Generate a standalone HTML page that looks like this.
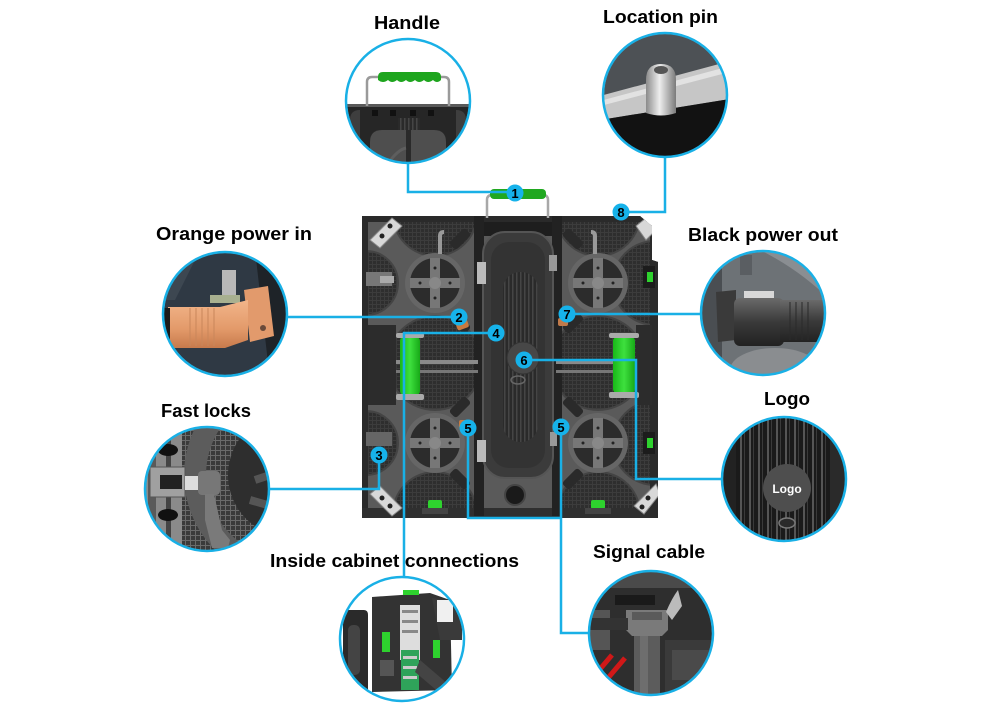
<!DOCTYPE html>
<html><head><meta charset="utf-8"><style>
html,body{margin:0;padding:0;background:#fff;}
svg{display:block;}
text{font-family:"Liberation Sans",Arial,sans-serif;font-weight:bold;}
</style></head><body>
<svg width="1000" height="710" viewBox="0 0 1000 710" xmlns="http://www.w3.org/2000/svg">
<defs>
<clipPath id="cab"><path d="M362 216 H640 L652 226 V260 L658 262 V518 H362 Z"/></clipPath>
<clipPath id="c1"><circle cx="408" cy="101" r="61"/></clipPath>
<clipPath id="c2"><circle cx="665" cy="95" r="61"/></clipPath>
<clipPath id="c3"><circle cx="225" cy="314" r="61"/></clipPath>
<clipPath id="c4"><circle cx="763" cy="313" r="61"/></clipPath>
<clipPath id="c5"><circle cx="207" cy="489" r="61"/></clipPath>
<clipPath id="c6"><circle cx="784" cy="479" r="61"/></clipPath>
<clipPath id="c7"><circle cx="402" cy="639" r="61"/></clipPath>
<clipPath id="c8"><circle cx="651" cy="633" r="61"/></clipPath>
<pattern id="mesh" width="4" height="4" patternUnits="userSpaceOnUse">
<rect width="4" height="4" fill="#2e2e2e"/><rect width="1" height="4" fill="#3c3c3c"/><rect width="4" height="1" fill="#3c3c3c"/>
</pattern>
<pattern id="mesh2" width="5" height="5" patternUnits="userSpaceOnUse">
<rect width="5" height="5" fill="#3a3a3a"/><rect width="1" height="5" fill="#6a6a6a"/><rect width="5" height="1" fill="#6a6a6a"/>
</pattern>
<pattern id="grille" width="4" height="4" patternUnits="userSpaceOnUse">
<rect width="4" height="4" fill="#2a2a2a"/><rect width="1.5" height="4" fill="#454545"/>
</pattern>
<pattern id="stripes" width="9" height="9" patternUnits="userSpaceOnUse">
<rect width="9" height="9" fill="#1a1a1a"/><rect x="2" width="2" height="9" fill="#555"/><rect x="6" width="1" height="9" fill="#3a3a3a"/>
</pattern>
<linearGradient id="pinG" x1="0" x2="1"><stop offset="0" stop-color="#8a8a8a"/><stop offset="0.45" stop-color="#eeeeee"/><stop offset="1" stop-color="#7a7a7a"/></linearGradient>
<linearGradient id="cylG" x1="0" y1="0" x2="0" y2="1"><stop offset="0" stop-color="#6a6a6a"/><stop offset="0.5" stop-color="#3a3a3a"/><stop offset="1" stop-color="#222"/></linearGradient>
<linearGradient id="orG" x1="0" y1="0" x2="0" y2="1"><stop offset="0" stop-color="#f2b58a"/><stop offset="0.6" stop-color="#e39a6a"/><stop offset="1" stop-color="#c77a4c"/></linearGradient>
<linearGradient id="grnG" x1="0" x2="1"><stop offset="0" stop-color="#18b818"/><stop offset="0.5" stop-color="#3ee03e"/><stop offset="1" stop-color="#17a917"/></linearGradient>
<g id="hub">
<circle r="30" fill="#666"/>
<circle r="25" fill="#2c2c2c"/>
<path d="M-5 -25 H5 V-5 H25 V5 H5 V25 H-5 V5 H-25 V-5 H-5 Z" fill="#777"/>
<circle r="6" fill="#888"/>
<circle cx="0" cy="-15" r="1.5" fill="#222"/><circle cx="0" cy="15" r="1.5" fill="#222"/><circle cx="-15" cy="0" r="1.5" fill="#222"/><circle cx="15" cy="0" r="1.5" fill="#222"/>
</g>
</defs>

<!-- ================= CABINET ================= -->
<g clip-path="url(#cab)">
<rect x="362" y="216" width="296" height="302" fill="#5a5a5a"/>
<!-- mesh circles -->
<g fill="url(#mesh)" stroke="#444" stroke-width="2">
<circle cx="435" cy="214" r="42"/>
<circle cx="435" cy="363" r="47"/>
<circle cx="435" cy="514" r="42"/>
<circle cx="366" cy="283" r="32"/>
<circle cx="366" cy="443" r="32"/>
<circle cx="598" cy="214" r="42"/>
<circle cx="598" cy="363" r="47"/>
<circle cx="598" cy="514" r="42"/>
<circle cx="655" cy="283" r="42"/>
<circle cx="655" cy="443" r="42"/>
</g>
<!-- frame edges -->
<rect x="362" y="216" width="6" height="302" fill="#2a2a2a"/>
<rect x="362" y="216" width="296" height="6" fill="#2a2a2a"/>
<rect x="362" y="508" width="296" height="10" fill="#2f2f2f"/>
<rect x="650" y="216" width="8" height="302" fill="#2a2a2a"/>
<rect x="474" y="216" width="10" height="300" fill="#222"/>
<rect x="552" y="216" width="10" height="300" fill="#222"/>
<!-- arm dark slots -->
<g fill="#2a2a2a">
<rect x="455" y="228" width="10" height="22" rx="3" transform="rotate(45 460 239)"/>
<rect x="455" y="312" width="10" height="22" rx="3" transform="rotate(-45 460 323)"/>
<rect x="455" y="396" width="10" height="22" rx="3" transform="rotate(45 460 407)"/>
<rect x="455" y="468" width="10" height="22" rx="3" transform="rotate(-45 460 479)"/>
<rect x="568" y="228" width="10" height="22" rx="3" transform="rotate(-45 573 239)"/>
<rect x="568" y="312" width="10" height="22" rx="3" transform="rotate(45 573 323)"/>
<rect x="568" y="396" width="10" height="22" rx="3" transform="rotate(-45 573 407)"/>
<rect x="568" y="468" width="10" height="22" rx="3" transform="rotate(45 573 479)"/>
</g>
<!-- hubs -->
<use href="#hub" x="435" y="283"/>
<use href="#hub" x="435" y="443"/>
<use href="#hub" x="598" y="283"/>
<use href="#hub" x="598" y="443"/>
<!-- middle band bars -->
<rect x="378" y="360" width="100" height="4" fill="#8a8a8a"/>
<rect x="378" y="370" width="100" height="3" fill="#777"/>
<rect x="556" y="360" width="90" height="4" fill="#8a8a8a"/>
<rect x="556" y="370" width="90" height="3" fill="#777"/>
<!-- dark side blocks -->
<rect x="368" y="325" width="28" height="80" fill="#2c2c2c"/>
<rect x="636" y="325" width="16" height="80" fill="#2c2c2c"/>
<!-- top handle pipes inside -->
<path d="M440 254 V236 Q440 232 444 232" fill="none" stroke="#999" stroke-width="4"/>
<path d="M595 254 V236 Q595 232 591 232" fill="none" stroke="#999" stroke-width="4"/>
<!-- fast lock left -->
<rect x="366" y="272" width="26" height="14" fill="#777"/>
<rect x="380" y="276" width="14" height="7" fill="#aaa"/>
<rect x="366" y="432" width="26" height="14" fill="#666"/>
<!-- right locks -->
<rect x="643" y="266" width="12" height="22" fill="#1c1c1c"/>
<rect x="647" y="272" width="6" height="10" fill="#2ed22e"/>
<rect x="643" y="432" width="12" height="22" fill="#1c1c1c"/>
<rect x="647" y="438" width="6" height="10" fill="#2ed22e"/>
<!-- corner brackets -->
<g fill="#d8d8d8" stroke="#888" stroke-width="1">
<polygon points="370,240 392,218 402,226 380,248"/>
<polygon points="370,494 380,486 402,508 392,516"/>
<polygon points="636,226 646,218 656,230 646,240"/>
<polygon points="634,506 656,484 660,494 644,514"/>
</g>
<g fill="#222"><circle cx="390" cy="226" r="2.5"/><circle cx="382" cy="236" r="2.5"/><circle cx="382" cy="498" r="2.5"/><circle cx="390" cy="506" r="2.5"/><circle cx="648" cy="498" r="2.5"/><circle cx="642" cy="507" r="2.5"/></g>
<!-- bottom green connectors -->
<rect x="428" y="500" width="14" height="9" rx="2" fill="#2ed22e"/>
<rect x="422" y="508" width="26" height="6" fill="#444"/>
<rect x="591" y="500" width="14" height="9" rx="2" fill="#2ed22e"/>
<rect x="585" y="508" width="26" height="6" fill="#444"/>
<circle cx="515" cy="495" r="10" fill="#1a1a1a" stroke="#444" stroke-width="2"/>
<!-- orange connectors -->
<rect x="456" y="320" width="12" height="9" rx="2" fill="#c87a40" transform="rotate(-20 462 324)"/>
<rect x="459" y="420" width="10" height="8" rx="2" fill="#c87a40"/>
<rect x="558" y="318" width="10" height="8" rx="2" fill="#c07a4a"/>
<!-- central module -->
<rect x="484" y="222" width="68" height="14" fill="#1e1e1e"/>
<rect x="483" y="232" width="70" height="246" rx="22" fill="#3b3b3b" stroke="#555" stroke-width="2"/>
<rect x="491" y="242" width="54" height="226" rx="18" fill="#333"/>
<rect x="503" y="272" width="35" height="170" rx="17" fill="url(#grille)"/>
<circle cx="523" cy="358" r="16" fill="#474747" stroke="#333"/>
<ellipse cx="518" cy="380" rx="7" ry="4" fill="none" stroke="#666" stroke-width="1.5"/>
<rect x="477" y="262" width="9" height="22" fill="#bbb"/>
<rect x="549" y="255" width="8" height="16" fill="#999"/>
<rect x="477" y="440" width="9" height="22" fill="#bbb"/>
<rect x="550" y="432" width="7" height="14" fill="#999"/>
<!-- side green handles -->
<rect x="400" y="337" width="20" height="58" rx="4" fill="url(#grnG)"/>
<rect x="396" y="333" width="28" height="5" rx="2" fill="#aaa"/>
<rect x="396" y="394" width="28" height="6" rx="2" fill="#aaa"/>
<rect x="613" y="337" width="22" height="56" rx="4" fill="url(#grnG)"/>
<rect x="609" y="333" width="30" height="5" rx="2" fill="#aaa"/>
<rect x="609" y="392" width="30" height="6" rx="2" fill="#aaa"/>
</g>
<!-- top handle -->
<path d="M487 218 V200 Q487 195 492 195 H543 Q548 195 548 200 V218" fill="none" stroke="#a8a8a8" stroke-width="2.5"/>
<rect x="490" y="189" width="56" height="10" rx="4" fill="#20a820"/>

<!-- ================= DETAIL CIRCLES ================= -->
<!-- Handle -->
<g clip-path="url(#c1)">
<rect x="340" y="35" width="140" height="140" fill="#fff"/>
<rect x="340" y="104" width="140" height="72" fill="#262626"/>
<rect x="345" y="104" width="126" height="3" fill="#5a5a5a"/>
<g fill="#111"><rect x="372" y="110" width="6" height="6"/><rect x="390" y="110" width="6" height="6"/><rect x="410" y="110" width="6" height="6"/><rect x="428" y="110" width="6" height="6"/></g>
<rect x="398" y="118" width="22" height="12" fill="url(#grille)"/>
<path d="M350 120 Q350 110 360 110 V176 H350 Z" fill="#3e3e3e"/>
<path d="M466 120 Q466 110 456 110 V176 H466 Z" fill="#3e3e3e"/>
<path d="M370 176 V142 Q370 130 382 130 H434 Q446 130 446 142 V176 Z" fill="#4e4e4e"/>
<rect x="406" y="130" width="5" height="46" fill="#2a2a2a"/>
<path d="M380 176 Q395 150 406 148" fill="none" stroke="#5e5e5e" stroke-width="3"/>
<path d="M367 106 V82 Q367 77 372 77 H444 Q449 77 449 82 V106" fill="none" stroke="#9a9a9a" stroke-width="2.5"/>
<path d="M378 77 Q378 72 383 72 H436 Q441 72 441 77 V80 Q437 84 433 80 Q428 84 424 80 Q419 84 415 80 Q410 84 406 80 Q401 84 397 80 Q392 84 388 80 Q383 84 378 80 Z" fill="#1ea51e"/>
</g>
<!-- Location pin -->
<g clip-path="url(#c2)">
<rect x="600" y="30" width="130" height="130" fill="#4d5155"/>
<polygon points="690,30 730,30 730,62" fill="#6a6e72"/>
<polygon points="600,96 730,61 730,99 600,120" fill="#c6c6c6"/>
<polygon points="600,101 730,66 730,72 600,106" fill="#e2e2e2"/>
<polygon points="600,120 730,99 730,160 600,160" fill="#121212"/>
<path d="M646 113 V80 Q646 64 661 64 Q676 64 676 80 V113 Q661 118 646 113 Z" fill="url(#pinG)"/>
<ellipse cx="661" cy="70" rx="7" ry="4" fill="#555"/>
</g>
<!-- Orange power in -->
<g clip-path="url(#c3)">
<rect x="160" y="250" width="130" height="130" fill="#2f3944"/>
<polygon points="255,250 290,250 290,380 270,380" fill="#1e2328"/>
<polygon points="160,250 200,250 175,300 160,300" fill="#3d4751"/>
<rect x="222" y="270" width="14" height="30" fill="#b8b8b8"/>
<rect x="210" y="295" width="30" height="8" fill="#a8b090"/>
<polygon points="244,290 268,286 274,336 250,342" fill="#e29a6c"/>
<path d="M168 307 H220 L248 300 V340 L225 348 H168 Z" fill="url(#orG)"/>
<g stroke="#c9865a" stroke-width="1"><line x1="190" y1="308" x2="190" y2="346"/><line x1="196" y1="308" x2="196" y2="346"/><line x1="202" y1="308" x2="202" y2="346"/><line x1="208" y1="308" x2="208" y2="346"/><line x1="214" y1="308" x2="214" y2="346"/></g>
<circle cx="263" cy="328" r="3" fill="#6a4a3a"/>
<rect x="160" y="308" width="10" height="38" fill="#1a1a1a"/>
</g>
<!-- Black power out -->
<g clip-path="url(#c4)">
<rect x="700" y="250" width="130" height="130" fill="#6d7276"/>
<path d="M760 250 Q800 270 830 300 V250 Z" fill="#8a8e92"/>
<ellipse cx="775" cy="370" rx="45" ry="22" fill="#8a8d90"/>
<rect x="700" y="250" width="22" height="130" fill="#4a4e52"/>
<rect x="740" y="255" width="12" height="20" fill="#5a5e62"/>
<rect x="744" y="291" width="30" height="9" fill="#d8d8d8"/>
<polygon points="716,292 736,290 736,340 718,342" fill="#3a3a3a"/>
<rect x="734" y="298" width="50" height="48" rx="6" fill="url(#cylG)"/>
<rect x="780" y="300" width="50" height="42" fill="url(#cylG)"/>
<g stroke="#2a2a2a" stroke-width="1"><line x1="790" y1="302" x2="790" y2="340"/><line x1="796" y1="302" x2="796" y2="340"/><line x1="802" y1="302" x2="802" y2="340"/><line x1="808" y1="302" x2="808" y2="340"/></g>
</g>
<!-- Fast locks -->
<g clip-path="url(#c5)">
<rect x="140" y="420" width="140" height="140" fill="url(#mesh2)"/>
<circle cx="290" cy="475" r="95" fill="none" stroke="#5c5c5c" stroke-width="22"/>
<circle cx="290" cy="475" r="62" fill="#2e2e2e"/>
<path d="M255 480 L285 470 M250 500 L285 510" stroke="#555" stroke-width="8"/>
<rect x="140" y="420" width="42" height="140" fill="#8a8a8a"/>
<rect x="148" y="420" width="8" height="140" fill="#5a5a5a"/>
<rect x="166" y="420" width="5" height="140" fill="#444"/>
<ellipse cx="168" cy="450" rx="10" ry="6" fill="#111"/>
<ellipse cx="168" cy="515" rx="10" ry="6" fill="#111"/>
<rect x="150" y="467" width="35" height="30" fill="#a0a0a0" stroke="#555"/>
<rect x="160" y="475" width="22" height="14" fill="#222"/>
<rect x="185" y="476" width="14" height="14" fill="#ddd"/>
<rect x="198" y="471" width="22" height="24" rx="4" fill="#777"/>
<path d="M205 494 L214 494 L222 530 L230 540 L228 548 L212 548 L205 520 Z" fill="#7a7a7a"/>
</g>
<!-- Logo -->
<g clip-path="url(#c6)">
<rect x="720" y="415" width="130" height="130" fill="url(#stripes)"/>
<rect x="722" y="415" width="14" height="130" fill="#222"/>
<rect x="830" y="415" width="20" height="130" fill="#2a2a2a"/>
<circle cx="787" cy="488" r="24" fill="#4e4e4e"/>
<text x="787" y="493" font-size="12" fill="#fff" text-anchor="middle">Logo</text>
<ellipse cx="787" cy="523" rx="8" ry="5" fill="#2a2a2a" stroke="#777" stroke-width="1.5"/>
</g>
<!-- Inside cabinet connections -->
<g clip-path="url(#c7)">
<rect x="338" y="575" width="130" height="130" fill="#fff"/>
<path d="M343 615 Q343 610 348 610 H364 Q368 610 368 615 V690 H343 Z" fill="#2a2a2a"/>
<rect x="348" y="625" width="12" height="50" rx="5" fill="#444"/>
<polygon points="372,597 430,593 450,600 452,690 372,692" fill="#333"/>
<polygon points="432,598 462,602 462,640 440,640" fill="#3a3a3a"/>
<rect x="400" y="605" width="20" height="55" fill="#ddd"/>
<rect x="402" y="610" width="16" height="3" fill="#888"/><rect x="402" y="620" width="16" height="3" fill="#888"/><rect x="402" y="630" width="16" height="3" fill="#888"/>
<rect x="401" y="650" width="18" height="40" fill="#2fa35a"/>
<rect x="403" y="656" width="14" height="3" fill="#ccc"/><rect x="403" y="666" width="14" height="3" fill="#ccc"/><rect x="403" y="676" width="14" height="3" fill="#ccc"/>
<rect x="382" y="632" width="8" height="20" fill="#2ed22e"/>
<rect x="433" y="640" width="7" height="18" fill="#2ed22e"/>
<rect x="403" y="590" width="16" height="5" fill="#2ed22e"/>
<rect x="437" y="600" width="16" height="22" fill="#f0f0f0"/>
<polygon points="420,660 455,690 448,700 415,672" fill="#444"/>
<rect x="380" y="660" width="14" height="16" fill="#555"/>
</g>
<!-- Signal cable -->
<g clip-path="url(#c8)">
<rect x="585" y="570" width="135" height="130" fill="#2e2e2e"/>
<rect x="585" y="570" width="135" height="18" fill="#4a4a4a"/>
<rect x="615" y="595" width="40" height="10" fill="#1a1a1a"/>
<path d="M626 610 H668 V630 L662 636 H632 L626 630 Z" fill="#7a7a7a"/>
<rect x="632" y="612" width="30" height="8" fill="#5a5a5a"/>
<path d="M666 612 Q672 598 678 590 L682 606 L672 620 Z" fill="#bbb"/>
<rect x="634" y="636" width="26" height="64" fill="#5c5c5c"/>
<rect x="640" y="636" width="8" height="64" fill="#6e6e6e"/>
<rect x="588" y="610" width="22" height="40" fill="#555"/>
<rect x="588" y="618" width="40" height="12" fill="#333"/>
<path d="M595 675 L612 655 M608 678 L625 658" stroke="#d01818" stroke-width="5"/>
<rect x="665" y="640" width="55" height="60" fill="#3a3a3a"/>
<rect x="672" y="650" width="40" height="30" fill="#4a4a4a"/>
</g>

<!-- circle borders -->
<g fill="none" stroke="#19b0e6" stroke-width="2.5">
<circle cx="408" cy="101" r="62"/>
<circle cx="665" cy="95" r="62"/>
<circle cx="225" cy="314" r="62"/>
<circle cx="763" cy="313" r="62"/>
<circle cx="207" cy="489" r="62"/>
<circle cx="784" cy="479" r="62"/>
<circle cx="402" cy="639" r="62"/>
<circle cx="651" cy="633" r="62"/>
</g>

<!-- connector lines -->
<g fill="none" stroke="#19b0e6" stroke-width="2.5">
<path d="M408 163 V192 H515"/>
<path d="M665 157 V212 H621"/>
<path d="M287 317 H459"/>
<path d="M568 314 H701"/>
<path d="M495 333 H404 V577"/>
<path d="M379 455 V489 H269"/>
<path d="M468 428 V518 H561"/>
<path d="M561 427 V633 H589"/>
<path d="M524 360 H636 V479 H722"/>
</g>

<!-- numbered markers -->
<g fill="#16b2ea">
<circle cx="515" cy="193" r="8.5"/>
<circle cx="459" cy="317" r="8.5"/>
<circle cx="379" cy="455" r="8.5"/>
<circle cx="496" cy="333" r="8.5"/>
<circle cx="468" cy="428" r="8.5"/>
<circle cx="561" cy="427" r="8.5"/>
<circle cx="524" cy="360" r="8.5"/>
<circle cx="567" cy="314" r="8.5"/>
<circle cx="621" cy="212" r="8.5"/>
</g>
<g font-size="13" fill="#000" text-anchor="middle">
<text x="515" y="198">1</text>
<text x="459" y="322">2</text>
<text x="379" y="460">3</text>
<text x="496" y="338">4</text>
<text x="468" y="433">5</text>
<text x="561" y="432">5</text>
<text x="524" y="365">6</text>
<text x="567" y="319">7</text>
<text x="621" y="217">8</text>
</g>

<!-- titles -->
<g font-size="18" fill="#000">
<text x="374" y="29" textLength="66" lengthAdjust="spacingAndGlyphs">Handle</text>
<text x="603" y="23" textLength="115" lengthAdjust="spacingAndGlyphs">Location pin</text>
<text x="156" y="240" textLength="156" lengthAdjust="spacingAndGlyphs">Orange power in</text>
<text x="688" y="241" textLength="150" lengthAdjust="spacingAndGlyphs">Black power out</text>
<text x="161" y="417" textLength="90" lengthAdjust="spacingAndGlyphs">Fast locks</text>
<text x="764" y="405" textLength="46" lengthAdjust="spacingAndGlyphs">Logo</text>
<text x="270" y="567" textLength="249" lengthAdjust="spacingAndGlyphs">Inside cabinet connections</text>
<text x="593" y="558" textLength="112" lengthAdjust="spacingAndGlyphs">Signal cable</text>
</g>
</svg>
</body></html>
